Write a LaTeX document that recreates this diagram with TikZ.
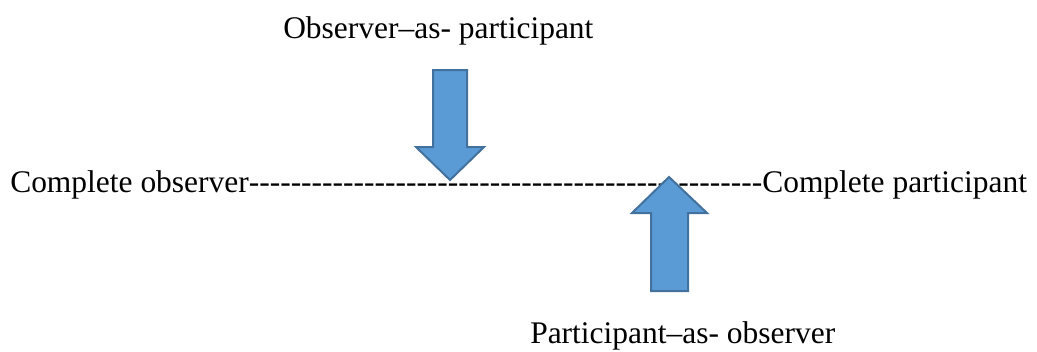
\documentclass[tikz,border=0pt]{standalone}
\usepackage{fontspec}
\setmainfont{Liberation Serif}
\usetikzlibrary{calc}
\definecolor{arrowfill}{HTML}{5B9BD5}
\definecolor{arrowline}{HTML}{41719C}
\newcommand{\hyphenrun}[1]{\foreach \k in {1,...,#1}{\mbox{-}}}
\tikzset{lbl/.style={inner sep=0pt,anchor=base west,font=\fontsize{23.6}{28}\selectfont},
  blockarrow/.style={draw=arrowline,fill=arrowfill,line width=1.5pt,line join=miter}}

\begin{document}
\begin{tikzpicture}[x=0.75pt,y=-0.75pt]
\useasboundingbox (0,0) rectangle (1037,351);
\node[lbl] (scale) at (10,192) {Complete observer\hyphenrun{49}Complete participant};
\node[lbl] (oap) at (283,38) {Observer–as- participant};
\node[lbl] (pao) at (530,343) {Participant–as- observer};
% down arrow
\draw[blockarrow] (433,70) -- (467,70) -- (467,147) -- (484,147) -- (450,180) -- (416,147) -- (433,147) -- cycle;
% up arrow
\draw[blockarrow] (651,291) -- (688,291) -- (688,213) -- (707,213) -- (669,177) -- (632,213) -- (651,213) -- cycle;
\end{tikzpicture}
\end{document}
